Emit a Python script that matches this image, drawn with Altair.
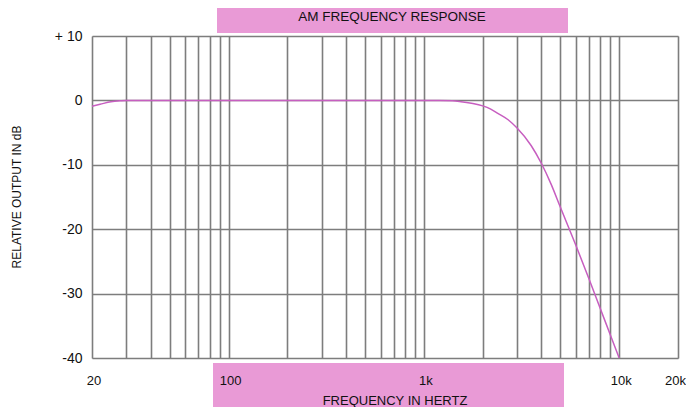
import altair as alt
import pandas as pd

# Response curve
freq_hz = [20, 22, 25, 28, 30, 50, 100, 300, 700, 1000, 1200, 1400, 1550, 1750, 2000,
           2200, 2390, 2700, 3000, 3540, 4000, 4480, 5000, 6000, 7000, 8000, 9000, 10000]
output_db = [-0.9, -0.6, -0.2, -0.05, 0, 0, 0, 0, 0, 0, 0, -0.05, -0.2, -0.45, -0.85,
             -1.35, -2.0, -3.0, -4.3, -7.0, -9.8, -13.0, -16.6, -22.5, -27.7, -32.3,
             -36.4, -40.0]

x_grid = [20, 30, 40, 50, 60, 70, 80, 90, 100, 200, 300, 400, 500, 600, 700, 800, 900,
          1000, 2000, 3000, 4000, 5000, 6000, 7000, 8000, 9000, 10000, 20000]
x_label_values = [20, 100, 1000, 10000, 20000]
x_label_texts = ["20", "100", "1k", "10k", "20k"]
y_ticks = [-40, -30, -20, -10, 0, 10]

title_text = "AM FREQUENCY RESPONSE"
x_title_text = "FREQUENCY IN HERTZ"
y_title_text = "RELATIVE OUTPUT IN dB"

df = pd.DataFrame({"f": freq_hz, "db": output_db})
lab_df = pd.DataFrame({"f": x_label_values, "t": x_label_texts})

W, H = 586, 322
GRID = "#7d7d7d"
PINK = "#e99ad6"
CURVE = "#c75ec0"
FONT = "Liberation Sans"

x_scale = alt.Scale(type="log", domain=[20, 20000], nice=False)
y_scale = alt.Scale(domain=[-40, 10], nice=False)

line = alt.Chart(df).mark_line(color=CURVE, strokeWidth=1.5, interpolate="monotone").encode(
    x=alt.X("f:Q", scale=x_scale,
            axis=alt.Axis(values=x_grid, labels=False, title=None,
                          grid=True, gridColor=GRID, gridWidth=1.6, gridOpacity=1,
                          ticks=False, domain=False)),
    y=alt.Y("db:Q", scale=y_scale,
            axis=alt.Axis(values=y_ticks,
                          labelExpr="datum.value > 0 ? '+ ' + datum.value : datum.value",
                          title=None, grid=True, gridColor=GRID, gridWidth=1.6,
                          gridOpacity=1, ticks=False, domain=False,
                          labelPadding=10, labelFontSize=14, labelFont=FONT,
                          labelColor="#111")),
)

top_box = alt.Chart(pd.DataFrame({"k": ["top"]})).mark_rect(color=PINK).encode(
    x=alt.value(125), x2=alt.value(476), y=alt.value(-40), y2=alt.value(-3))
bottom_box = alt.Chart(pd.DataFrame({"k": ["bottom"]})).mark_rect(color=PINK).encode(
    x=alt.value(121), x2=alt.value(472), y=alt.value(327), y2=alt.value(390))

x_labels_main = alt.Chart(lab_df[lab_df.f < 20000]).mark_text(
    font=FONT, fontSize=13, color="#111", align="center", baseline="middle", dx=2).encode(
    x=alt.X("f:Q", scale=x_scale), y=alt.value(345), text="t:N")
x_label_last = alt.Chart(lab_df[lab_df.f == 20000]).mark_text(
    font=FONT, fontSize=13, color="#111", align="right", baseline="middle", dx=8).encode(
    x=alt.X("f:Q", scale=x_scale), y=alt.value(345), text="t:N")

title_mark = alt.Chart(pd.DataFrame({"t": [title_text]})).mark_text(
    font=FONT, fontSize=13.5, color="#111", align="center", baseline="middle").encode(
    text="t:N", x=alt.value(300), y=alt.value(-19))
xtitle_mark = alt.Chart(pd.DataFrame({"t": [x_title_text]})).mark_text(
    font=FONT, fontSize=13, color="#111", align="center", baseline="middle").encode(
    text="t:N", x=alt.value(303), y=alt.value(365))
ytitle_mark = alt.Chart(pd.DataFrame({"t": [y_title_text]})).mark_text(
    font=FONT, fontSize=12, color="#111", align="center", baseline="middle", angle=270).encode(
    text="t:N", x=alt.value(-75), y=alt.value(161))

chart = alt.layer(bottom_box, line, top_box, x_labels_main, x_label_last,
                  title_mark, xtitle_mark, ytitle_mark).properties(
    width=W, height=H,
    autosize=alt.AutoSizeParams(type="none"),
    padding={"left": 84, "top": 28, "right": 8, "bottom": 49},
).configure_view(stroke=None).configure(background="white")

chart.save("out.html", embed_options={"renderer": "svg", "actions": False})
